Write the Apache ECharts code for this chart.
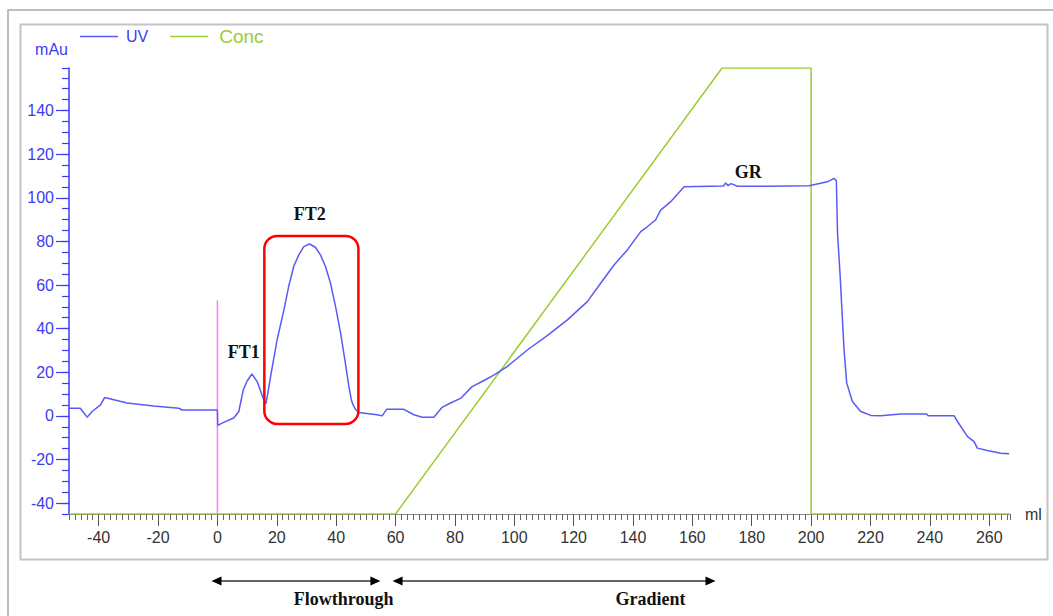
<!DOCTYPE html>
<html>
<head>
<meta charset="utf-8">
<script src="https://cdn.jsdelivr.net/npm/echarts@6/dist/echarts.min.js"></script>
<style>
html,body{margin:0;padding:0;background:#fff;}
#chart{width:1053px;height:616px;}
</style>
</head>
<body>
<div id="chart"></div>
<script>
// ---- data ----
const uvMl = [-50, -46.2, -43.9, -42.2, -39.4, -38, -30.4, -21.5, -13, -11.9, 0, 0.1, 2.1, 5.5, 7.2, 8.7, 10, 11.6, 13.4, 15.4, 16.3,
  16.8, 17.9, 20.1, 22.4, 24, 25.7, 27.4, 29.1, 31, 33, 34.7, 36.4, 38.1, 39.8, 41.5, 43.1, 44.3, 45.1, 45.7, 46.5, 47.6,
  53.8, 55.5, 57, 62.8, 66.2, 69, 72.9, 75.7, 78.5, 81.9, 85.8, 89.8, 93.1, 97.6, 104.4, 111.1, 117.9, 124.6, 129.1, 133.6,
  138.1, 142.6, 144.8, 147.6, 149.3, 152.7, 157.2, 166.2, 170.5, 171.2, 172, 173, 175.2, 185, 199.3, 205.5, 207.7, 208.5,
  208.9, 209.8, 210.5, 211.1, 212, 213.9, 216.7, 220.1, 223.5, 230.2, 239, 239.4, 248.2, 249.3, 252.7, 254.9, 256, 259.4,
  263.9, 266.7];
const uvMau = [3.5, 3.5, -0.6, 2, 5, 8.4, 5.9, 4.5, 3.5, 2.7, 2.7, -4.4, -3, -1, 2, 11.9, 16, 19.2, 15.7, 8.1, 5.5,
  8.9, 18, 34.8, 48.6, 59.3, 68.5, 73.8, 77.6, 78.8, 77.3, 73.8, 68.5, 60.8, 50.1, 37.9, 24.2, 13.4, 7.4, 5, 3, 1.5,
  0.5, 0, 3, 3, 0.5, -0.6, -0.6, 3.9, 5.9, 8, 13.4, 16.2, 18.7, 22.6, 30.2, 36.8, 44, 52.4, 60.8, 69.2,
  76.1, 84.5, 86.7, 89.8, 94.3, 98.2, 105, 105.3, 105.4, 106.8, 105.6, 106.5, 105.3, 105.3, 105.5, 107.3, 108.9, 107.8,
  83.7, 63.8, 45.4, 30.2, 15, 6.6, 2, 0.2, 0, 0.8, 0.8, 0, 0, -2.6, -9.5, -11.8, -14.8, -15.9, -17.1, -17.4];
const concMl = [-50, 60, 170, 200, 200, 267];
const concPct = [0, 0, 100, 100, 0, 0];
const injectMl = [0, 0];
const injectMau = [-45, 53];
const xTickLabels = [-40, -20, 0, 20, 40, 60, 80, 100, 120, 140, 160, 180, 200, 220, 240, 260];
const yTickLabels = [-40, -20, 0, 20, 40, 60, 80, 100, 120, 140];
const peakNames = ['FT1', 'FT2', 'GR'];
const peakLabelMl = [8.9, 31.1, 178.8];
const peakLabelMau = [29.4, 92.4, 112];
const boxMl = [15.8, 47.5];
const boxMau = [82.5, -3.7];
const phaseNames = ['Flowthrough', 'Gradient'];
const phaseStartMl = [-2, 59];
const phaseEndMl = [54.9, 167.8];
const phaseTextMl = [42.5, 145.9];

// ---- styles ----
const BLUE = '#3c3cf5';
const UVLINE = '#5a5af7';
const GREEN = '#9acd32';
const MAGENTA = '#ff7cff';
const SANS = 'Liberation Sans, Arial';

const chart = echarts.init(document.getElementById('chart'), null, {renderer: 'svg'});

const pair = (a, b) => a.map((v, i) => [v, b[i]]);

const option = {
  animation: false,
  backgroundColor: '#fff',
  grid: {left: 69, right: 43, top: 68, bottom: 102, containLabel: false, outerBoundsMode: 'none'},
  legend: {
    left: 75, top: 22, itemWidth: 38, itemHeight: 1.6, itemGap: 22, selectedMode: false,
    data: [
      {name: 'UV', icon: 'rect', textStyle: {color: BLUE, fontSize: 16, fontFamily: SANS, padding: [0, 0, 2, 3]}},
      {name: 'Conc', icon: 'rect', textStyle: {color: GREEN, fontSize: 19, fontFamily: SANS, padding: [0, 0, 0, 6]}}
    ]
  },
  xAxis: [
    {
      type: 'value', min: -50, max: 267, interval: 2, position: 'bottom',
      axisLine: {show: true, onZero: false, lineStyle: {color: '#888', width: 1}},
      axisTick: {show: true, length: 6, lineStyle: {color: '#666'}},
      axisLabel: {show: false},
      splitLine: {show: false},
      name: 'ml', nameLocation: 'end', nameGap: 15,
      nameTextStyle: {color: '#333', fontSize: 16, fontFamily: SANS, padding: [9, 0, 0, 0]}
    },
    {
      type: 'value', min: -50, max: 267, position: 'bottom',
      axisLine: {show: false, onZero: false},
      axisTick: {show: true, customValues: xTickLabels, length: 12, lineStyle: {color: '#555'}},
      axisLabel: {show: true, customValues: xTickLabels, margin: 15, color: '#333', fontSize: 16, fontFamily: SANS},
      splitLine: {show: false}
    }
  ],
  yAxis: [
    {
      type: 'value', min: -45, max: 159.5, interval: 5, position: 'left',
      axisLine: {show: true, onZero: false, lineStyle: {color: BLUE, width: 1.5}},
      axisTick: {show: true, length: 7, lineStyle: {color: BLUE, width: 1.2}},
      axisLabel: {show: false},
      splitLine: {show: false},
      name: 'mAu', nameLocation: 'end', nameGap: 14,
      nameTextStyle: {color: BLUE, fontSize: 16, fontFamily: SANS, align: 'right', padding: [0, 1, -3, 0]}
    },
    {
      type: 'value', min: -45, max: 159.5, position: 'left',
      axisLine: {show: false, onZero: false},
      axisTick: {show: true, customValues: yTickLabels, length: 13, lineStyle: {color: BLUE, width: 1.2}},
      axisLabel: {show: true, customValues: yTickLabels, margin: 15, color: BLUE, fontSize: 16, fontFamily: SANS},
      splitLine: {show: false}
    },
    {type: 'value', min: 0, max: 100, show: false}
  ],
  series: [
    {
      name: 'Conc', type: 'line', xAxisIndex: 0, yAxisIndex: 2, symbol: 'none', z: 3,
      lineStyle: {color: GREEN, width: 1.5}, itemStyle: {color: GREEN},
      data: pair(concMl, concPct)
    },
    {
      name: 'inject', type: 'line', xAxisIndex: 0, yAxisIndex: 0, symbol: 'none', z: 2,
      lineStyle: {color: MAGENTA, width: 1.5}, itemStyle: {color: MAGENTA},
      data: pair(injectMl, injectMau)
    },
    {
      name: 'UV', type: 'line', xAxisIndex: 0, yAxisIndex: 0, symbol: 'none', z: 4,
      lineStyle: {color: UVLINE, width: 1.5}, itemStyle: {color: UVLINE},
      data: pair(uvMl, uvMau)
    }
  ]
};
chart.setOption(option);

// ---- annotations placed through the axis scales ----
const toPx = (x, y) => chart.convertToPixel({xAxisIndex: 0, yAxisIndex: 0}, [x, y]);
const g = [];
// frames
g.push({type: 'rect', shape: {x: 8, y: 10, width: 1200, height: 800}, style: {fill: 'none', stroke: '#a8a8a8', lineWidth: 1.5}, z: -1, silent: true});
g.push({type: 'rect', shape: {x: 20.5, y: 24.5, width: 1027, height: 535}, style: {fill: 'none', stroke: '#c4c4c4', lineWidth: 2}, z: -1, silent: true});
// red box
const b0 = toPx(boxMl[0], boxMau[0]);
const b1 = toPx(boxMl[1], boxMau[1]);
g.push({type: 'rect', shape: {x: b0[0], y: b0[1], width: b1[0] - b0[0], height: b1[1] - b0[1], r: 13},
  style: {fill: 'none', stroke: '#ff0000', lineWidth: 2.5}, z: 10});
// peak labels
peakNames.forEach((t, i) => {
  const p = toPx(peakLabelMl[i], peakLabelMau[i]);
  g.push({type: 'text', x: p[0], y: p[1], z: 10,
    style: {text: t, fill: '#111', font: 'bold 18px "Liberation Serif", "Times New Roman", serif', align: 'center', verticalAlign: 'middle'}});
});
// phase arrows
const arrowY = 581;
phaseNames.forEach((t, i) => {
  const xa = toPx(phaseStartMl[i], 0)[0];
  const xb = toPx(phaseEndMl[i], 0)[0];
  g.push({type: 'line', shape: {x1: xa + 6, y1: arrowY, x2: xb - 6, y2: arrowY}, style: {stroke: '#333', lineWidth: 1.5}, z: 10});
  g.push({type: 'polygon', shape: {points: [[xa, arrowY], [xa + 10, arrowY - 4.5], [xa + 10, arrowY + 4.5]]}, style: {fill: '#000'}, z: 10});
  g.push({type: 'polygon', shape: {points: [[xb, arrowY], [xb - 10, arrowY - 4.5], [xb - 10, arrowY + 4.5]]}, style: {fill: '#000'}, z: 10});
  const tx = toPx(phaseTextMl[i], 0)[0];
  g.push({type: 'text', x: tx, y: 599, z: 10,
    style: {text: t, fill: '#111', font: 'bold 18px "Liberation Serif", "Times New Roman", serif', align: 'center', verticalAlign: 'middle'}});
});
chart.setOption({graphic: g});
</script>
</body>
</html>
